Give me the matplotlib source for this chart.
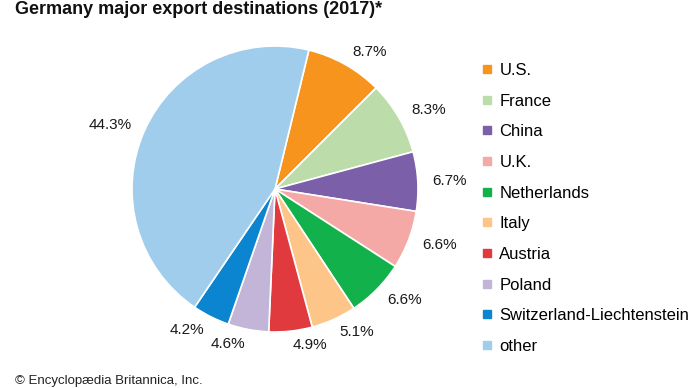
import matplotlib
matplotlib.use("Agg")
import matplotlib.pyplot as plt
from matplotlib.lines import Line2D

plt.rcParams['font.family'] = ['Liberation Sans', 'DejaVu Sans']

countries = ["U.S.", "France", "China", "U.K.", "Netherlands", "Italy", "Austria",
             "Poland", "Switzerland-Liechtenstein", "other"]
shares = [8.7, 8.3, 6.7, 6.6, 6.6, 5.1, 4.9, 4.6, 4.2, 44.3]
labels = ["8.7%", "8.3%", "6.7%", "6.6%", "6.6%", "5.1%", "4.9%", "4.6%", "4.2%", "44.3%"]
colors = ["#f7941d", "#bcdcaa", "#7b5fa9", "#f4a9a6", "#12b14b", "#fdc588",
          "#e0393e", "#c2b5d8", "#0b85cf", "#a1cdec"]

W, H = 690, 388
fig = plt.figure(figsize=(W / 100, H / 100), dpi=100)

cx, cy, r = 275, 189, 143
side = 2.5 * r
ax = fig.add_axes([(cx - side / 2) / W, (H - cy - side / 2) / H, side / W, side / H])
wedges, texts = ax.pie(shares, labels=labels, colors=colors, startangle=76.3,
                       counterclock=False, labeldistance=1.1,
                       wedgeprops=dict(edgecolor="white", linewidth=1.2),
                       textprops=dict(fontsize=11, color="#1a1a1a"))
ax.set_aspect("equal")

handles = [Line2D([], [], marker="s", linestyle="none", markersize=6,
                  markerfacecolor=c, markeredgecolor=c) for c in colors]
fig.legend(handles, countries, loc="upper left", bbox_to_anchor=(481 / W, 1 - 63 / H),
           frameon=False, fontsize=12, handlelength=0.7, handletextpad=0.4,
           labelspacing=0.94, borderaxespad=0, borderpad=0)

fig.text(15 / W, 1 - 10 / H, "Germany major export destinations (2017)*",
         fontsize=13, fontweight="bold", ha="left", va="center", color="#111111")
fig.text(15 / W, 1 - 381 / H, "© Encyclopædia Britannica, Inc.",
         fontsize=9.5, ha="left", va="center", color="#222222")

fig.savefig("out.png", dpi=100)
